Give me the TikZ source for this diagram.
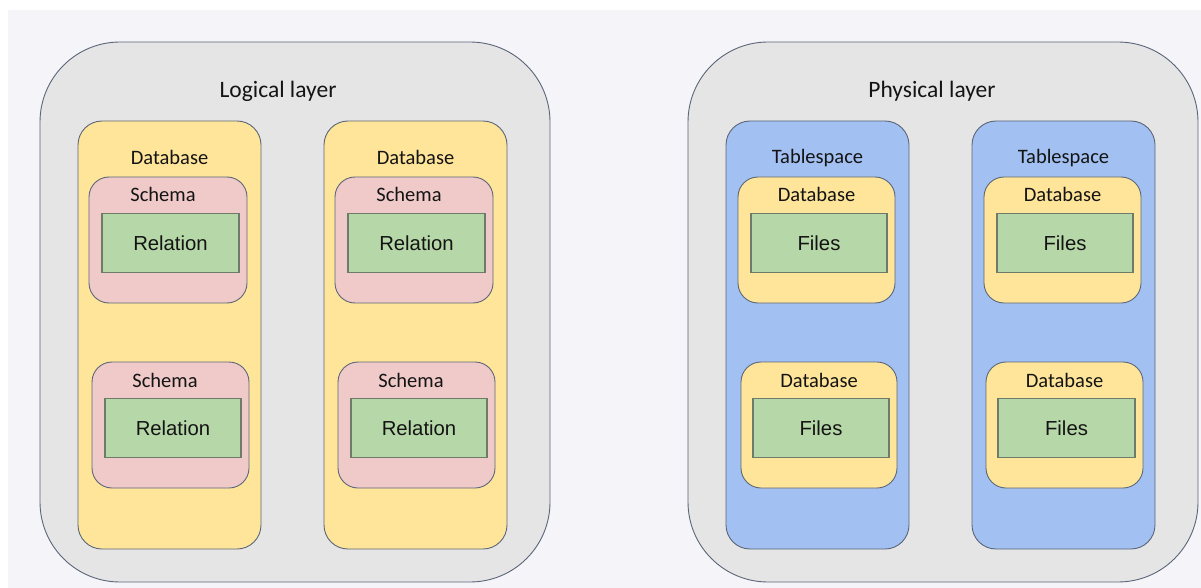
\documentclass[tikz,border=0pt]{standalone}
\usepackage{fontspec}
\setmainfont{Carlito}
\newfontfamily\arialfont{Liberation Sans}
\definecolor{pagebg}{HTML}{F4F4F9}
\definecolor{layerfill}{HTML}{E5E5E5}
\definecolor{dbfill}{HTML}{FFE599}
\definecolor{schemafill}{HTML}{F0C9C9}
\definecolor{relfill}{HTML}{B6D7A8}
\definecolor{tsfill}{HTML}{A2C0F1}
\definecolor{edge}{HTML}{5B6678}
\definecolor{reledge}{HTML}{6E7B6A}
\tikzset{
  frame/.style={draw=edge, line width=0.9pt, inner sep=0pt, outer sep=0pt, anchor=north west},
  layerbox/.style={frame, fill=layerfill, rounded corners=80pt},
  dbbox/.style={frame, fill=dbfill, rounded corners=24pt},
  tsbox/.style={frame, fill=tsfill, rounded corners=24pt},
  schemabox/.style={frame, fill=schemafill, rounded corners=20pt},
  pdbbox/.style={frame, fill=dbfill, rounded corners=20pt},
  relbox/.style={frame, draw=reledge, fill=relfill, line width=1.2pt,
    font=\arialfont\fontsize{20.3}{24}\selectfont, text=black!92},
  title/.style={font=\fontsize{23.5}{28}\selectfont, text=black!92},
  caption/.style={font=\fontsize{20.5}{24}\selectfont, text=black!92},
}
% box with top-left corner (x,y), width w and height h, all in px
\newcommand{\boxat}[7]{\node[#1, minimum width=#5pt, minimum height=#6pt] (#2) at (#3,#4) {#7};}
\begin{document}
\begin{tikzpicture}[x=1pt, y=-1pt]
  \fill[white] (0,0) rectangle (1201,588);
  \fill[pagebg] (8,10) rectangle (1201,588);
  \useasboundingbox (0,0) rectangle (1201,588);

  % logical layer
  \boxat{layerbox}{logical}{40}{42}{510}{540}{}
  \node[title] (logicaltitle) at (278,91.5) {Logical layer};
  \boxat{dbbox}{dbA}{78}{121}{183}{428}{}
  \boxat{dbbox}{dbB}{324}{121}{183}{428}{}
  \node[caption] (dbAlabel) at (169.5,157) {Database};
  \node[caption] (dbBlabel) at (415.5,157) {Database};
  \boxat{schemabox}{scA1}{89}{177}{158}{126}{}
  \boxat{schemabox}{scA2}{92}{362}{157}{126}{}
  \boxat{schemabox}{scB1}{335}{177}{158}{126}{}
  \boxat{schemabox}{scB2}{338}{362}{157}{126}{}
  \node[caption] (scA1label) at (163,194) {Schema};
  \node[caption] (scA2label) at (165,380) {Schema};
  \node[caption] (scB1label) at (409,194) {Schema};
  \node[caption] (scB2label) at (411,380) {Schema};
  \boxat{relbox}{relA1}{102}{213.5}{137}{59}{Relation}
  \boxat{relbox}{relA2}{105}{398.5}{136}{59}{Relation}
  \boxat{relbox}{relB1}{348}{213.5}{137}{59}{Relation}
  \boxat{relbox}{relB2}{351}{398.5}{136}{59}{Relation}

  % physical layer
  \boxat{layerbox}{physical}{688}{42}{510}{540}{}
  \node[title] (physicaltitle) at (932,91.5) {Physical layer};
  \boxat{tsbox}{tsA}{726}{121}{183}{428}{}
  \boxat{tsbox}{tsB}{972}{121}{183}{428}{}
  \node[caption] (tsAlabel) at (817.5,158.5) {Tablespace};
  \node[caption] (tsBlabel) at (1063.5,158.5) {Tablespace};
  \boxat{pdbbox}{pdA1}{738}{177}{157}{126}{}
  \boxat{pdbbox}{pdA2}{741}{362}{156}{126}{}
  \boxat{pdbbox}{pdB1}{984}{177}{157}{126}{}
  \boxat{pdbbox}{pdB2}{986}{362}{157}{126}{}
  \node[caption] (pdA1label) at (816.5,194) {Database};
  \node[caption] (pdA2label) at (819,380) {Database};
  \node[caption] (pdB1label) at (1062.5,194) {Database};
  \node[caption] (pdB2label) at (1064.5,380) {Database};
  \boxat{relbox}{fA1}{751}{213.5}{136}{59}{Files}
  \boxat{relbox}{fA2}{753}{398.5}{136}{59}{Files}
  \boxat{relbox}{fB1}{997}{213.5}{136}{59}{Files}
  \boxat{relbox}{fB2}{998}{398.5}{137}{59}{Files}
\end{tikzpicture}
\end{document}
